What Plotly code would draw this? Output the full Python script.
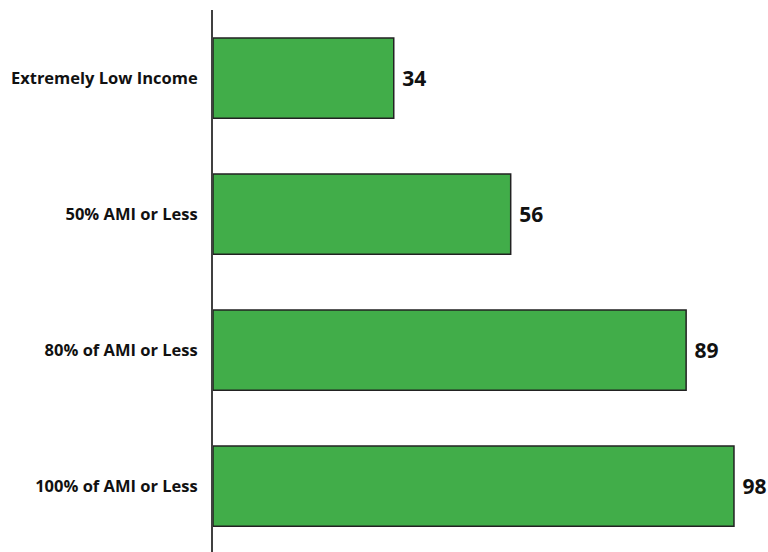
import plotly.graph_objects as go

categories = ["Extremely Low Income", "50% AMI or Less", "80% of AMI or Less", "100% of AMI or Less"]
values = [34, 56, 89, 98]

fig = go.Figure(go.Bar(
    y=categories, x=values, orientation="h",
    marker=dict(color="#41AD49", line=dict(color="#222222", width=1.5)),
    texttemplate=" %{x}", textposition="outside",
    textfont=dict(family="Open Sans", size=21, color="#111111", weight="bold"),
    cliponaxis=False,
))
fig.update_layout(
    width=768, height=552,
    margin=dict(l=213, r=0, t=10, b=0, autoexpand=False),
    plot_bgcolor="white", paper_bgcolor="white",
    bargap=0.41, showlegend=False,
    xaxis=dict(range=[0, 104.4], visible=False, showgrid=False, zeroline=False, automargin=False),
    yaxis=dict(range=[3.485, -0.5], showline=True, linecolor="#404040", linewidth=2,
               showgrid=False, ticks="", ticklabelstandoff=10, automargin=False,
               tickfont=dict(family="Open Sans", size=16.5, color="#111111", weight="bold")),
)
fig.write_html(
    "out.html",
    config={"displayModeBar": False},
    post_script="document.body.style.margin='0';document.body.style.overflow='hidden';",
)
